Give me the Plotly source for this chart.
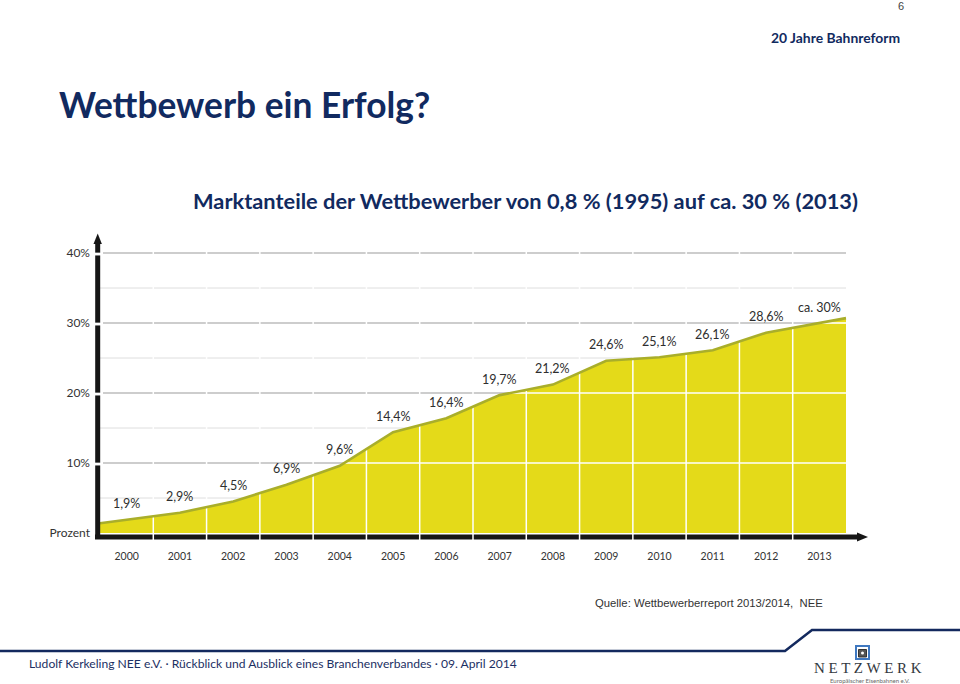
import numpy as np
import plotly.graph_objects as go

# ---------------- data ----------------
years = [2000, 2001, 2002, 2003, 2004, 2005, 2006, 2007, 2008, 2009, 2010, 2011, 2012, 2013]
shares = [1.9, 2.9, 4.5, 6.9, 9.6, 14.4, 16.4, 19.7, 21.2, 24.6, 25.1, 26.1, 28.6, 30.0]
share_labels = ["1,9%", "2,9%", "4,5%", "6,9%", "9,6%", "14,4%", "16,4%", "19,7%",
                "21,2%", "24,6%", "25,1%", "26,1%", "28,6%", "ca. 30%"]
ytick_vals = [0, 10, 20, 30, 40]
ytick_text = ["Prozent", "10%", "20%", "30%", "40%"]
major_grid = [10, 20, 30, 40]
minor_grid = [5, 15, 25, 35]

# ---------------- geometry (pixels) ----------------
W, H = 960, 684
L, R, T, B = 92, 875, 232, 545          # plot area in pixels
X0PX, X1PX = 100, 846                    # left / right edge of the year bands
SX = (X1PX - X0PX) / len(years)          # px per year
Y0PX, SY = 533, 7.0                      # pixel of 0 %, px per percent

def px_x(p):
    return years[0] - 0.5 + (p - X0PX) / SX

def px_y(p):
    return (Y0PX - p) / SY

def paper_x(p):
    return (p - L) / (R - L)

def paper_y(p):
    return (B - p) / (B - T)

xr = [px_x(L), px_x(R)]
yr = [px_y(B), px_y(T)]

# extended area (half band on each side, linear continuation of the data)
x_ext = [years[0] - 0.5] + years + [years[-1] + 0.5]
y_ext = ([shares[0] - (shares[1] - shares[0]) / 2] + shares +
         [shares[-1] + (shares[-1] - shares[-2]) / 2])

YELLOW = "#e4da19"
BORDER = "#a9ae2a"
NAVY = "#112a60"
TXT = "#2e2e2e"

fig = go.Figure()

def seg_trace(xs, ys, color, width):
    fig.add_trace(go.Scatter(x=xs, y=ys, mode="lines",
                             line=dict(color=color, width=width),
                             hoverinfo="skip", showlegend=False))

# gridlines
gx, gy = [], []
for v in minor_grid:
    gx += [x_ext[0], x_ext[-1], None]
    gy += [v, v, None]
seg_trace(gx, gy, "#dedede", 1)
gx, gy = [], []
for v in major_grid:
    gx += [px_x(X0PX + 3), x_ext[-1], None]
    gy += [v, v, None]
seg_trace(gx, gy, "#9c9c9c", 1.2)

# yellow area
fig.add_trace(go.Scatter(x=x_ext, y=y_ext, mode="lines", fill="tozeroy",
                         fillcolor=YELLOW, line=dict(width=0, color=YELLOW),
                         hoverinfo="skip", showlegend=False))

# x axis bar
xbar_y = px_y(Y0PX + 4)
seg_trace([px_x(95), px_x(860)], [xbar_y, xbar_y], "#161616", 5)

# white horizontal lines inside the area
hx, hy = [], []
for v in major_grid:
    if v < y_ext[-1]:
        xc = float(np.interp(v, y_ext, x_ext))
        hx += [xc, x_ext[-1], None]
        hy += [v, v, None]
seg_trace(hx, hy, "white", 1.6)

# white vertical band separators
vx, vy = [], []
for yv in years[:-1]:
    vx += [yv + 0.5, yv + 0.5, None]
    vy += [px_y(Y0PX + 7), 41, None]
seg_trace(vx, vy, "white", 1.5)

# border line of area
seg_trace(x_ext, y_ext, BORDER, 2.6)

# y axis bar with gaps at the major levels
ybar_x = px_x(97.7)
bx, by = [], []
lo = px_y(Y0PX + 6)
for v in major_grid:
    bx += [ybar_x, ybar_x, None]
    by += [lo, v - 0.35, None]
    lo = v + 0.05
bx += [ybar_x, ybar_x]
by += [lo, px_y(243)]
seg_trace(bx, by, "#161616", 5)

# arrow heads (triangles)
fig.add_trace(go.Scatter(
    x=[px_x(93.5), px_x(97.7), px_x(101.9), px_x(93.5)],
    y=[px_y(244), px_y(233.5), px_y(244), px_y(244)],
    mode="lines", fill="toself", fillcolor="#161616", line=dict(width=0, color="#161616"),
    hoverinfo="skip", showlegend=False))
fig.add_trace(go.Scatter(
    x=[px_x(857), px_x(868), px_x(857), px_x(857)],
    y=[px_y(Y0PX + 4 - 4.5), px_y(Y0PX + 4), px_y(Y0PX + 4 + 4.5), px_y(Y0PX + 4 - 4.5)],
    mode="lines", fill="toself", fillcolor="#161616", line=dict(width=0, color="#161616"),
    hoverinfo="skip", showlegend=False))

annotations = []
# data labels
for xv, yv, t in zip(years, shares, share_labels):
    annotations.append(dict(x=xv, y=yv, xref="x", yref="y", text=t, showarrow=False,
                            yshift=16, font=dict(family="Lato", size=12.5, color=TXT)))

def txt(x, y, text, size, color, family="Lato", weight="normal", xanchor="left"):
    annotations.append(dict(x=paper_x(x), y=paper_y(y), xref="paper", yref="paper",
                            text=text, showarrow=False, xanchor=xanchor, yanchor="middle",
                            font=dict(family=family, size=size, color=color, weight=weight)))

txt(57, 104, "Wettbewerb ein Erfolg?", 35.3, NAVY, weight="bold")
txt(191, 200, "Marktanteile der Wettbewerber von 0,8 % (1995) auf ca. 30 % (2013)", 21.8,
    NAVY, weight="bold")
txt(902, 37, "20 Jahre Bahnreform", 13.9, NAVY, weight="bold", xanchor="right")
txt(906, 6, "6", 11, "#444444", family="Liberation Sans", xanchor="right")
txt(593, 603, "Quelle: Wettbewerberreport 2013/2014,  NEE", 11.3, "#333333",
    family="Liberation Sans")
txt(27, 663, "Ludolf Kerkeling NEE e.V. · Rückblick und Ausblick eines Branchenverbandes · 09. April 2014",
    12.1, "#1c2f63")
txt(868, 668, "N E T Z W E R K", 15, "#333840", family="Liberation Serif", xanchor="center")
txt(870, 680.5, "Europäischer Eisenbahnen e.V.", 6, "#666666", xanchor="center")

shapes = [
    dict(type="path", xref="paper", yref="paper",
         path="M {} {} L {} {} L {} {} L {} {}".format(
             paper_x(0), paper_y(651), paper_x(785), paper_y(651),
             paper_x(812), paper_y(630), paper_x(960), paper_y(630)),
         line=dict(color="#13295e", width=2.5)),
    dict(type="rect", xref="paper", yref="paper",
         x0=paper_x(856), x1=paper_x(869), y0=paper_y(659), y1=paper_y(646),
         line=dict(color="#3f78c0", width=2), fillcolor="#ffffff"),
    dict(type="rect", xref="paper", yref="paper",
         x0=paper_x(858.5), x1=paper_x(866.5), y0=paper_y(657), y1=paper_y(649.5),
         line=dict(color="#333333", width=1), fillcolor="#555555"),
    dict(type="circle", xref="paper", yref="paper",
         x0=paper_x(861), x1=paper_x(864), y0=paper_y(654.5), y1=paper_y(651.5),
         line=dict(width=0), fillcolor="#ffffff"),
]

fig.update_layout(
    width=W, height=H,
    margin=dict(l=L, r=W - R, t=T, b=H - B, pad=0),
    paper_bgcolor="white", plot_bgcolor="white",
    showlegend=False,
    annotations=annotations,
    shapes=shapes,
    xaxis=dict(range=xr, tickvals=years, ticktext=[str(y) for y in years],
               showgrid=False, zeroline=False, showline=False, ticks="",
               tickfont=dict(family="Lato", size=10.5, color="#333333"),
               ticklabelstandoff=3, fixedrange=True),
    yaxis=dict(range=yr, tickvals=ytick_vals, ticktext=ytick_text,
               showgrid=False, zeroline=False, showline=False, ticks="",
               tickfont=dict(family="Lato", size=12, color="#333333"),
               ticklabelstandoff=1, fixedrange=True),
)

fig.write_html("out.html", config={"displayModeBar": False},
               post_script="document.body.style.margin='0';")
